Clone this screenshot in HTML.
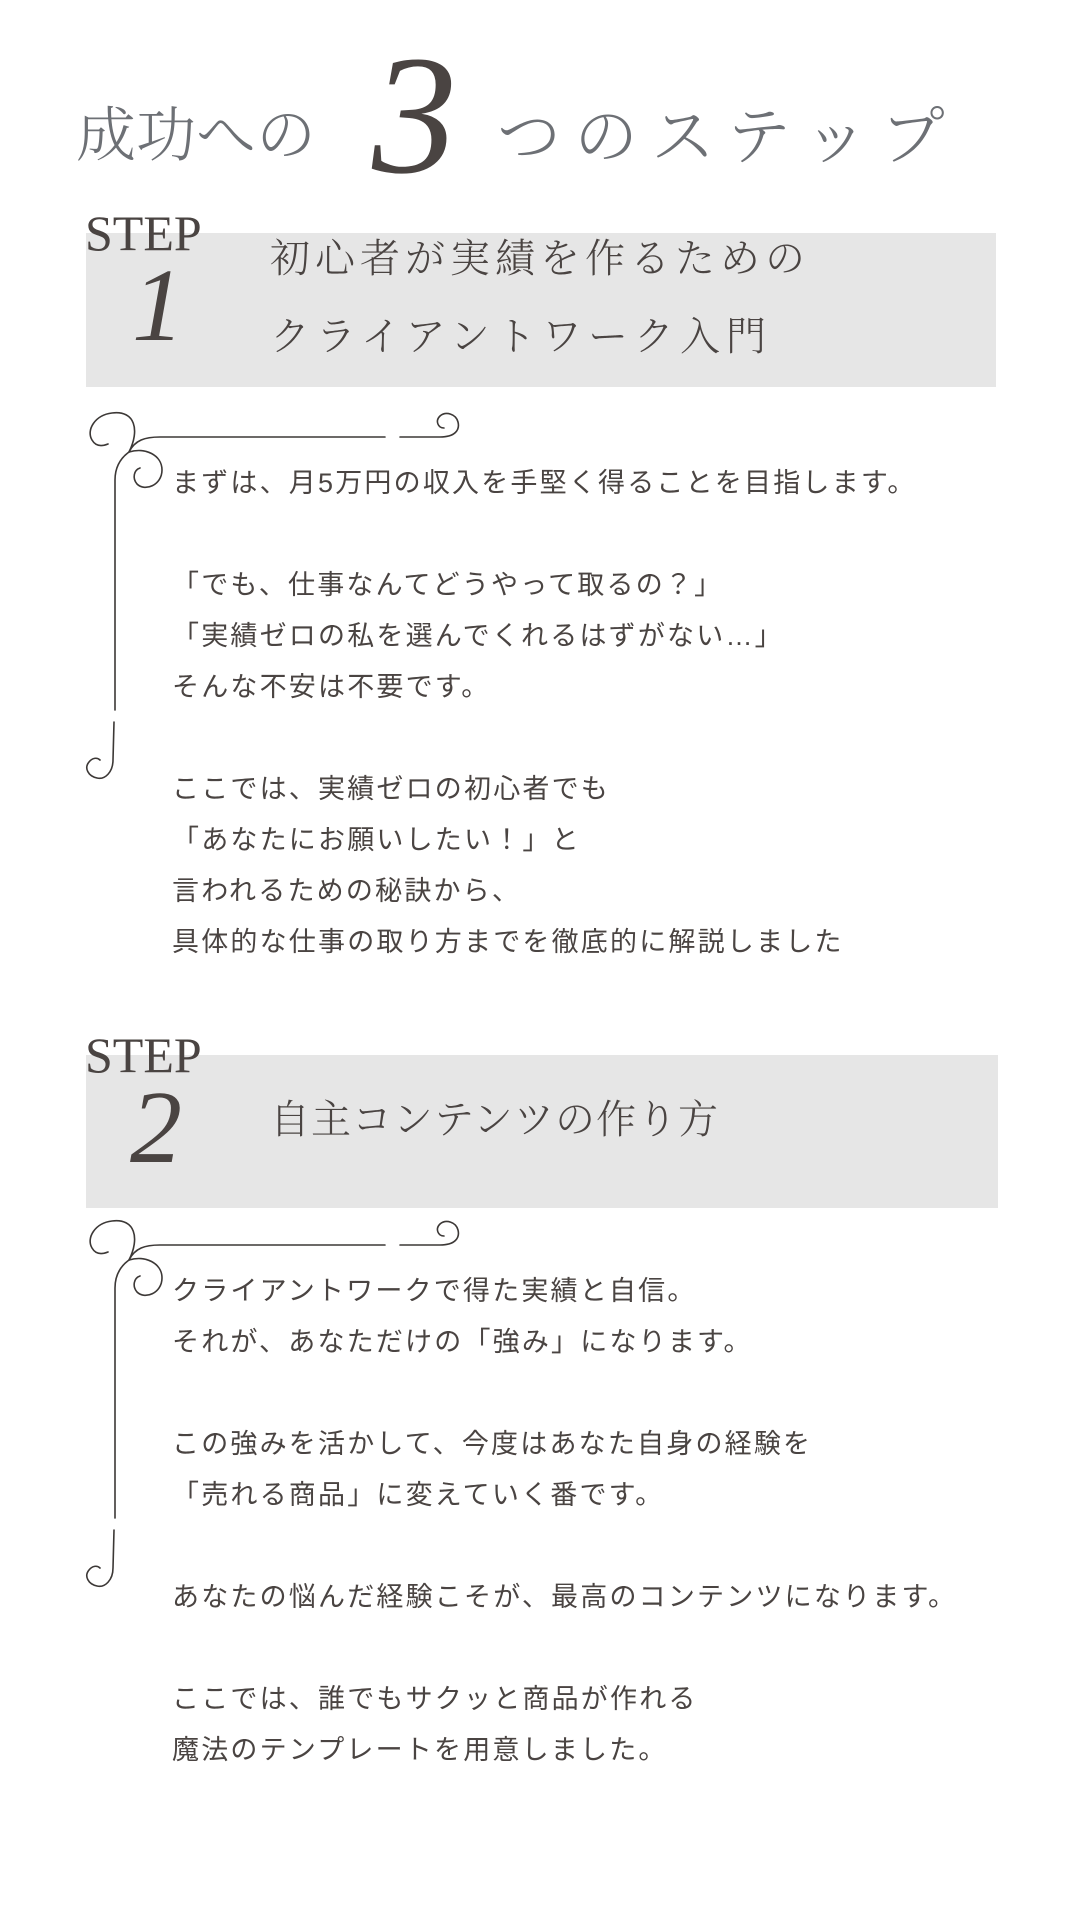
<!DOCTYPE html>
<html><head><meta charset="utf-8">
<style>
html,body{margin:0;padding:0;background:#fff;}
body{width:1080px;height:1920px;position:relative;overflow:hidden;}
.a{position:absolute;white-space:nowrap;}
.title{font-family:"Liberation Serif","Noto Serif CJK SC",serif;color:#6d7075;font-size:60px;font-weight:300;}
.box{position:absolute;background:#e6e6e6;}
.step{font-family:"Liberation Serif",serif;color:#4a4442;font-size:50px;line-height:1;}
.num{font-family:"Liberation Serif",serif;font-style:italic;color:#4a4442;line-height:1;}
.head{font-family:"Liberation Serif","Noto Serif CJK SC",serif;color:#4a4442;font-size:40px;letter-spacing:5px;font-weight:300;line-height:1;}
.body{font-family:"Liberation Sans","Noto Sans CJK JP",sans-serif;color:#4a4442;font-size:27px;letter-spacing:2.2px;line-height:51px;}
</style></head><body>

<div class="a title" style="left:76px;top:88px;">成功への</div>
<div class="a num" style="left:372px;top:30px;font-size:170px;">3</div>
<div class="a title" style="left:497px;top:86px;font-size:64px;letter-spacing:13px;">つのステップ</div>

<!-- STEP 1 -->
<div class="box" style="left:86px;top:233px;width:910px;height:154px;"></div>
<div class="a step" style="left:85px;top:208px;">STEP</div>
<div class="a num" style="left:132px;top:254px;font-size:104px;">1</div>
<div class="a head" style="left:270px;top:239px;">初心者が実績を作るための</div>
<div class="a head" style="left:270px;top:317px;letter-spacing:6px;">クライアントワーク入門</div>

<svg class="a" style="left:0;top:0" width="1080" height="1920">
<defs>
<g id="orn" fill="none" stroke="#3c3836" stroke-width="1.6" stroke-linecap="round">
<path d="M129,452 C140,430 135,410 112,413 C95,415 86,430 92,440 C96,447 103,446 108,444"/>
<path d="M129,452 C135,440 145,437 160,437 L385,437 M400,437 L440,437 C455,437 460,430 458,422 C456,414 446,411 440,416 C435,421 438,428 444,428"/>
<path d="M129,452 C145,447 162,455 162,470 C162,485 145,492 137,484 C132,478 134,470 140,468"/>
<path d="M129,452 C118,460 115,470 115,480 L115,710 M114,722 L113,760 C113,772 105,780 97,778 C88,776 84,768 89,762 C92,758 97,757 100,760"/>
</g>
</defs>
<use href="#orn"/>
<use href="#orn" y="808"/>
</svg>

<div class="a body" style="left:172px;top:458px;">まずは、月5万円の収入を手堅く得ることを目指します。<br><br>「でも、仕事なんてどうやって取るの？」<br>「実績ゼロの私を選んでくれるはずがない…」<br>そんな不安は不要です。<br><br>ここでは、実績ゼロの初心者でも<br>「あなたにお願いしたい！」と<br>言われるための秘訣から、<br>具体的な仕事の取り方までを徹底的に解説しました</div>

<!-- STEP 2 -->
<div class="box" style="left:86px;top:1055px;width:912px;height:153px;"></div>
<div class="a step" style="left:85px;top:1030px;">STEP</div>
<div class="a num" style="left:130px;top:1076px;font-size:104px;">2</div>
<div class="a head" style="left:270px;top:1100px;letter-spacing:1px;">自主コンテンツの作り方</div>

<div class="a body" style="left:172px;top:1266px;">クライアントワークで得た実績と自信。<br>それが、あなただけの「強み」になります。<br><br>この強みを活かして、今度はあなた自身の経験を<br>「売れる商品」に変えていく番です。<br><br>あなたの悩んだ経験こそが、最高のコンテンツになります。<br><br>ここでは、誰でもサクッと商品が作れる<br>魔法のテンプレートを用意しました。</div>

</body></html>
